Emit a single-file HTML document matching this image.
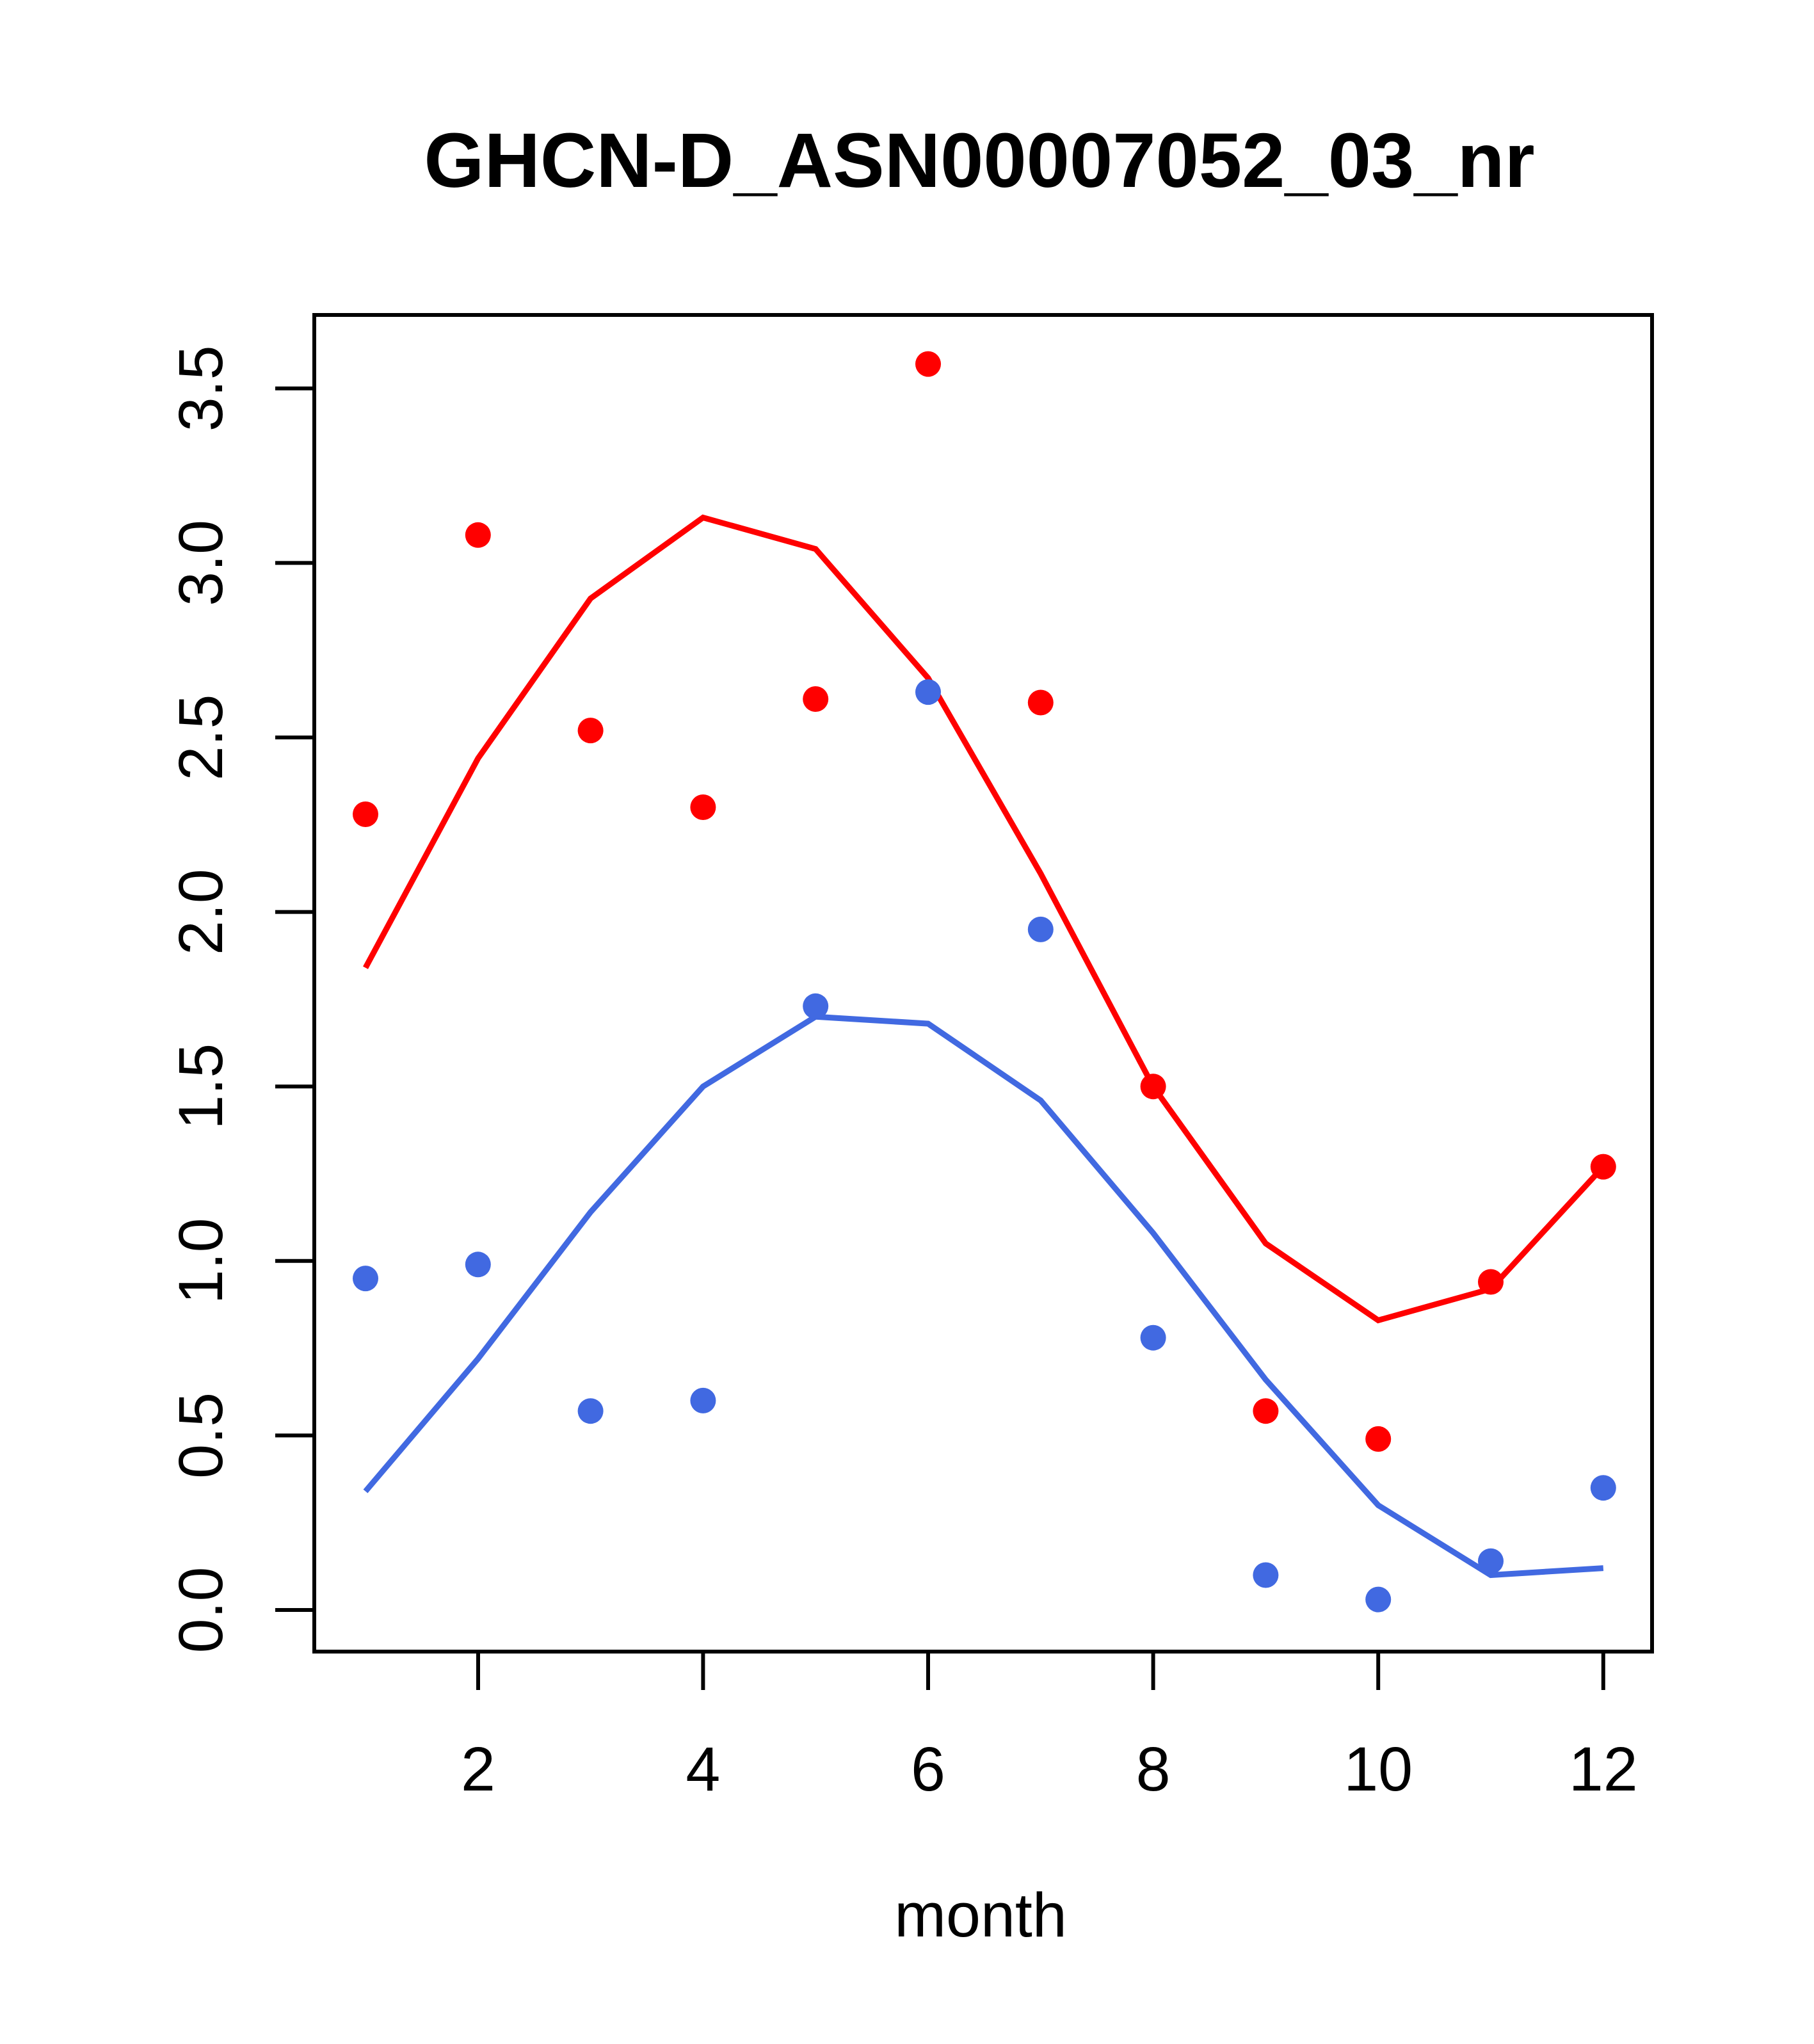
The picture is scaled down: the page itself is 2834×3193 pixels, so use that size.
<!DOCTYPE html>
<html><head><style>html,body{margin:0;padding:0;background:#fff}</style></head>
<body>
<svg width="2834" height="3188" viewBox="0 0 2834 3188" xmlns="http://www.w3.org/2000/svg" font-family="Liberation Sans, Arial, sans-serif">
<rect width="2834" height="3188" fill="#fff"/>
<text x="1530" y="292" font-size="121" font-weight="bold" text-anchor="middle">GHCN-D_ASN00007052_03_nr</text>
<rect x="491" y="492" width="2090" height="2088" fill="none" stroke="#000" stroke-width="6"/>
<g stroke="#000" stroke-width="6">
<line x1="747" y1="2580" x2="747" y2="2640"/><line x1="1098.4" y1="2580" x2="1098.4" y2="2640"/>
<line x1="1450" y1="2580" x2="1450" y2="2640"/><line x1="1801.6" y1="2580" x2="1801.6" y2="2640"/>
<line x1="2153.2" y1="2580" x2="2153.2" y2="2640"/><line x1="2504.8" y1="2580" x2="2504.8" y2="2640"/>
<line x1="430" y1="2515" x2="491" y2="2515"/><line x1="430" y1="2242.4" x2="491" y2="2242.4"/>
<line x1="430" y1="1969.8" x2="491" y2="1969.8"/><line x1="430" y1="1697.2" x2="491" y2="1697.2"/>
<line x1="430" y1="1424.6" x2="491" y2="1424.6"/><line x1="430" y1="1152" x2="491" y2="1152"/>
<line x1="430" y1="879.4" x2="491" y2="879.4"/><line x1="430" y1="606.8" x2="491" y2="606.8"/>
</g>
<g font-size="97" text-anchor="middle">
<text x="747" y="2797">2</text><text x="1098.4" y="2797">4</text><text x="1450" y="2797">6</text>
<text x="1801.6" y="2797">8</text><text x="2153.2" y="2797">10</text><text x="2504.8" y="2797">12</text>
<text x="1532" y="3025">month</text>
</g>
<g font-size="97" text-anchor="middle">
<text transform="translate(347,2515) rotate(-90)">0.0</text>
<text transform="translate(347,2242.4) rotate(-90)">0.5</text>
<text transform="translate(347,1969.8) rotate(-90)">1.0</text>
<text transform="translate(347,1697.2) rotate(-90)">1.5</text>
<text transform="translate(347,1424.6) rotate(-90)">2.0</text>
<text transform="translate(347,1152) rotate(-90)">2.5</text>
<text transform="translate(347,879.4) rotate(-90)">3.0</text>
<text transform="translate(347,606.8) rotate(-90)">3.5</text>
</g>
<g transform="translate(0,2)">
<polyline fill="none" stroke="#FF0000" stroke-width="9" points="571,1509.8 746.8,1182.7 922.6,932.9 1098.4,806.5 1274.2,855.6 1450,1057.3 1625.8,1362.6 1801.6,1695.2 1977.4,1940.5 2153.2,2060.5 2329,2011.4 2504.8,1820.6"/>
<polyline fill="none" stroke="#4169E1" stroke-width="9" points="571,2327.6 746.8,2120.5 922.6,1891.5 1098.4,1695.2 1274.2,1586.2 1450,1597.1 1625.8,1717 1801.6,1924.2 1977.4,2153.2 2153.2,2349.4 2329,2458.5 2504.8,2447.6"/>
<g fill="#4169E1">
<circle cx="571" cy="1995.1" r="20"/><circle cx="746.8" cy="1973.3" r="20"/><circle cx="922.6" cy="2202.2" r="20"/>
<circle cx="1098.4" cy="2185.9" r="20"/><circle cx="1274.2" cy="1569.8" r="20"/><circle cx="1450" cy="1079.1" r="20"/>
<circle cx="1625.8" cy="1449.9" r="20"/><circle cx="1801.6" cy="2087.7" r="20"/><circle cx="1977.4" cy="2458.5" r="20"/>
<circle cx="2153.2" cy="2496.6" r="20"/><circle cx="2329" cy="2436.7" r="20"/><circle cx="2504.8" cy="2322.2" r="20"/>
</g>
<g fill="#FF0000">
<circle cx="571" cy="1270" r="20"/><circle cx="746.8" cy="833.8" r="20"/><circle cx="922.6" cy="1139.1" r="20"/>
<circle cx="1098.4" cy="1259" r="20"/><circle cx="1274.2" cy="1090" r="20"/><circle cx="1450" cy="566.6" r="20"/>
<circle cx="1625.8" cy="1095.5" r="20"/><circle cx="1801.6" cy="1695.2" r="20"/><circle cx="1977.4" cy="2202.2" r="20"/>
<circle cx="2153.2" cy="2245.9" r="20"/><circle cx="2329" cy="2000.5" r="20"/><circle cx="2504.8" cy="1820.6" r="20"/>
</g>
</g>
</svg>
</body></html>
